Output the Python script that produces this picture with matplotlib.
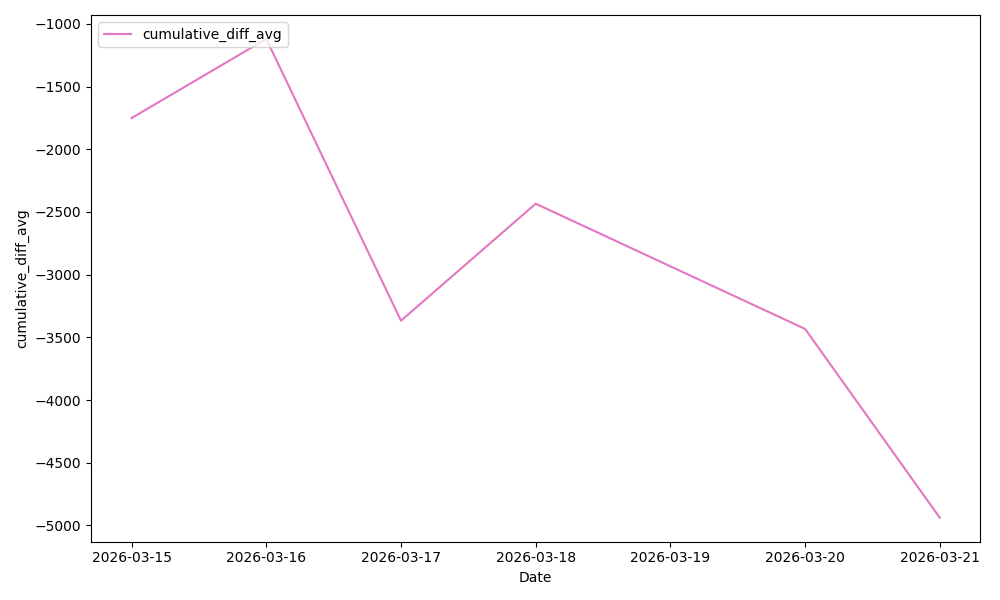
import matplotlib
matplotlib.use("Agg")
import matplotlib.pyplot as plt
import pandas as pd

dates = ["2026-03-15", "2026-03-16", "2026-03-17", "2026-03-18", "2026-03-20", "2026-03-21"]
values = [-1751, -1120, -3367, -2434, -3433, -4939]

x = pd.to_datetime(dates)
fig, ax = plt.subplots(figsize=(10, 6), dpi=100)
ax.plot(x, values, color="#e377c2", label="cumulative_diff_avg")
ax.set_xlabel("Date")
ax.set_ylabel("cumulative_diff_avg")
ax.legend(loc="upper left")
fig.tight_layout()
fig.savefig("out.png")
